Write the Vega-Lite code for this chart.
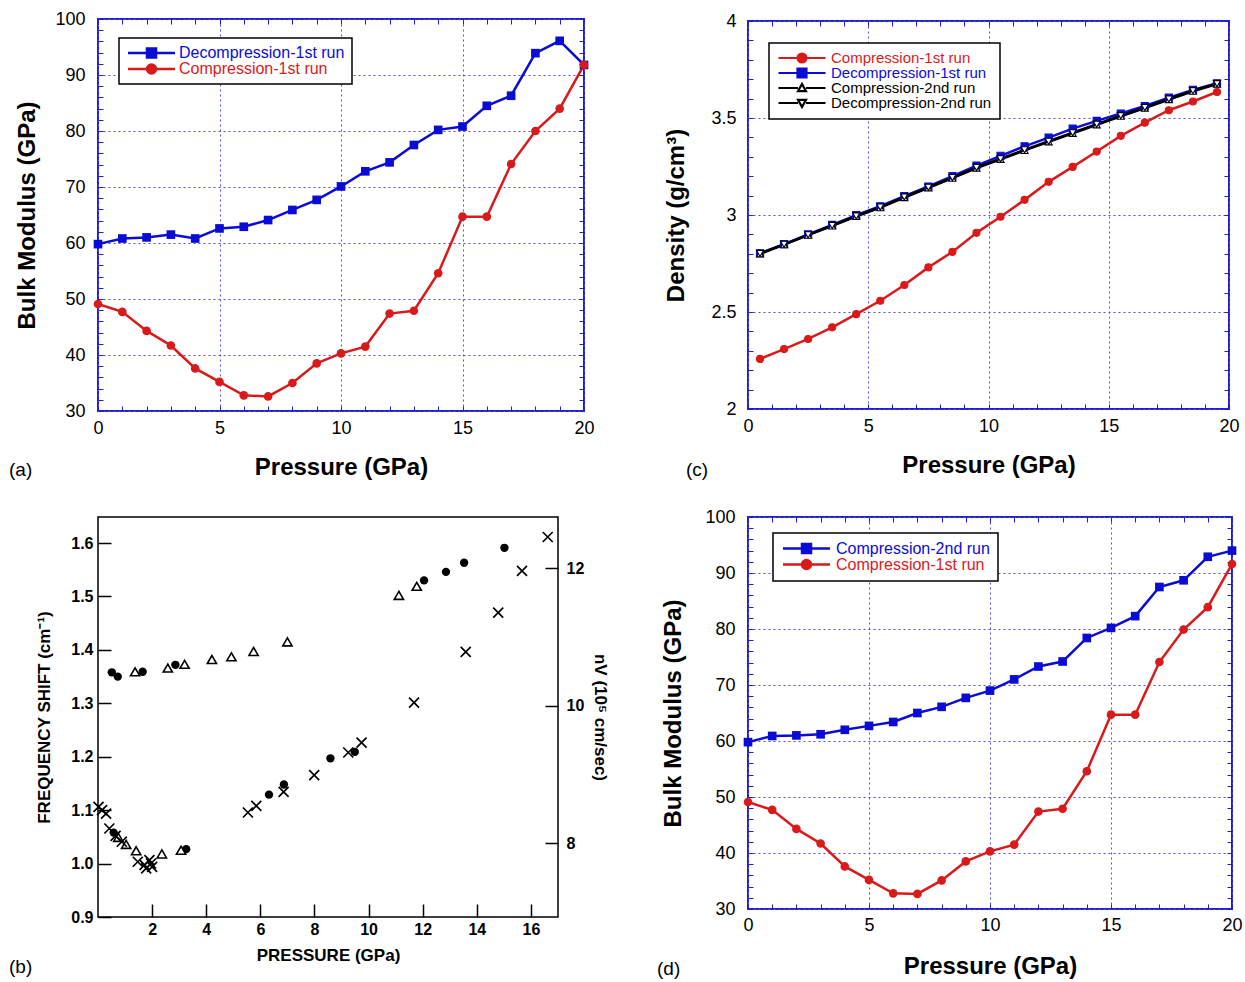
{
  "$schema": "https://vega.github.io/schema/vega-lite/v6.json",
  "padding": {"left": 8, "top": 9, "right": 5, "bottom": 5},
  "bounds": "flush",
  "columns": 2,
  "spacing": {"row": 106, "column": 164},
  "center": {"row": true, "column": false},
  "resolve": {"scale": {"color": "independent", "fill": "independent", "stroke": "independent", "shape": "independent", "x": "independent", "y": "independent"}},
  "config": {
    "font": "Liberation Sans",
    "view": {"stroke": null},
    "axis": {"labelFlush": false, "labelOverlap": false, "domain": false, "labelColor": "black", "titleColor": "black", "grid": false, "labelFont": "Liberation Sans", "titleFont": "Liberation Sans"},
    "title": {"color": "black", "font": "Liberation Sans", "fontWeight": "normal", "fontSize": 19},
    "legend": {"labelFont": "Liberation Sans", "labelLimit": 400}
  },
  "datasets": {
    "bulkA": [
      {"P": 0, "K": 59.8, "series": "Decompression-1st run"}, {"P": 1, "K": 60.8, "series": "Decompression-1st run"}, {"P": 2, "K": 61.0, "series": "Decompression-1st run"}, {"P": 3, "K": 61.5, "series": "Decompression-1st run"}, {"P": 4, "K": 60.8, "series": "Decompression-1st run"}, {"P": 5, "K": 62.6, "series": "Decompression-1st run"}, {"P": 6, "K": 62.9, "series": "Decompression-1st run"}, {"P": 7, "K": 64.1, "series": "Decompression-1st run"}, {"P": 8, "K": 65.9, "series": "Decompression-1st run"}, {"P": 9, "K": 67.7, "series": "Decompression-1st run"}, {"P": 10, "K": 70.1, "series": "Decompression-1st run"}, {"P": 11, "K": 72.8, "series": "Decompression-1st run"}, {"P": 12, "K": 74.4, "series": "Decompression-1st run"}, {"P": 13, "K": 77.5, "series": "Decompression-1st run"}, {"P": 14, "K": 80.2, "series": "Decompression-1st run"}, {"P": 15, "K": 80.8, "series": "Decompression-1st run"}, {"P": 16, "K": 84.5, "series": "Decompression-1st run"}, {"P": 17, "K": 86.3, "series": "Decompression-1st run"}, {"P": 18, "K": 93.9, "series": "Decompression-1st run"}, {"P": 19, "K": 96.1, "series": "Decompression-1st run"}, {"P": 20, "K": 91.8, "series": "Decompression-1st run"},
      {"P": 0, "K": 49.1, "series": "Compression-1st run"}, {"P": 1, "K": 47.7, "series": "Compression-1st run"}, {"P": 2, "K": 44.3, "series": "Compression-1st run"}, {"P": 3, "K": 41.7, "series": "Compression-1st run"}, {"P": 4, "K": 37.6, "series": "Compression-1st run"}, {"P": 5, "K": 35.2, "series": "Compression-1st run"}, {"P": 6, "K": 32.8, "series": "Compression-1st run"}, {"P": 7, "K": 32.6, "series": "Compression-1st run"}, {"P": 8, "K": 35.0, "series": "Compression-1st run"}, {"P": 9, "K": 38.5, "series": "Compression-1st run"}, {"P": 10, "K": 40.3, "series": "Compression-1st run"}, {"P": 11, "K": 41.5, "series": "Compression-1st run"}, {"P": 12, "K": 47.4, "series": "Compression-1st run"}, {"P": 13, "K": 47.9, "series": "Compression-1st run"}, {"P": 14, "K": 54.6, "series": "Compression-1st run"}, {"P": 15, "K": 64.7, "series": "Compression-1st run"}, {"P": 16, "K": 64.7, "series": "Compression-1st run"}, {"P": 17, "K": 74.1, "series": "Compression-1st run"}, {"P": 18, "K": 80.0, "series": "Compression-1st run"}, {"P": 19, "K": 84.0, "series": "Compression-1st run"}, {"P": 20, "K": 91.8, "series": "Compression-1st run"}
    ],
    "bulkD": [
      {"P": 0, "K": 59.8, "series": "Compression-2nd run"}, {"P": 1, "K": 60.9, "series": "Compression-2nd run"}, {"P": 2, "K": 61.0, "series": "Compression-2nd run"}, {"P": 3, "K": 61.2, "series": "Compression-2nd run"}, {"P": 4, "K": 62.0, "series": "Compression-2nd run"}, {"P": 5, "K": 62.7, "series": "Compression-2nd run"}, {"P": 6, "K": 63.4, "series": "Compression-2nd run"}, {"P": 7, "K": 65.0, "series": "Compression-2nd run"}, {"P": 8, "K": 66.1, "series": "Compression-2nd run"}, {"P": 9, "K": 67.7, "series": "Compression-2nd run"}, {"P": 10, "K": 69.0, "series": "Compression-2nd run"}, {"P": 11, "K": 71.0, "series": "Compression-2nd run"}, {"P": 12, "K": 73.3, "series": "Compression-2nd run"}, {"P": 13, "K": 74.2, "series": "Compression-2nd run"}, {"P": 14, "K": 78.4, "series": "Compression-2nd run"}, {"P": 15, "K": 80.2, "series": "Compression-2nd run"}, {"P": 16, "K": 82.3, "series": "Compression-2nd run"}, {"P": 17, "K": 87.5, "series": "Compression-2nd run"}, {"P": 18, "K": 88.7, "series": "Compression-2nd run"}, {"P": 19, "K": 92.9, "series": "Compression-2nd run"}, {"P": 20, "K": 94.0, "series": "Compression-2nd run"},
      {"P": 0, "K": 49.1, "series": "Compression-1st run"}, {"P": 1, "K": 47.7, "series": "Compression-1st run"}, {"P": 2, "K": 44.3, "series": "Compression-1st run"}, {"P": 3, "K": 41.7, "series": "Compression-1st run"}, {"P": 4, "K": 37.6, "series": "Compression-1st run"}, {"P": 5, "K": 35.2, "series": "Compression-1st run"}, {"P": 6, "K": 32.8, "series": "Compression-1st run"}, {"P": 7, "K": 32.7, "series": "Compression-1st run"}, {"P": 8, "K": 35.1, "series": "Compression-1st run"}, {"P": 9, "K": 38.5, "series": "Compression-1st run"}, {"P": 10, "K": 40.3, "series": "Compression-1st run"}, {"P": 11, "K": 41.5, "series": "Compression-1st run"}, {"P": 12, "K": 47.4, "series": "Compression-1st run"}, {"P": 13, "K": 47.9, "series": "Compression-1st run"}, {"P": 14, "K": 54.6, "series": "Compression-1st run"}, {"P": 15, "K": 64.7, "series": "Compression-1st run"}, {"P": 16, "K": 64.7, "series": "Compression-1st run"}, {"P": 17, "K": 74.1, "series": "Compression-1st run"}, {"P": 18, "K": 79.9, "series": "Compression-1st run"}, {"P": 19, "K": 83.9, "series": "Compression-1st run"}, {"P": 20, "K": 91.6, "series": "Compression-1st run"}
    ],
    "density": [
      {"P": 0.5, "rho": 2.258, "series": "Compression-1st run"}, {"P": 1.5, "rho": 2.309, "series": "Compression-1st run"}, {"P": 2.5, "rho": 2.361, "series": "Compression-1st run"}, {"P": 3.5, "rho": 2.421, "series": "Compression-1st run"}, {"P": 4.5, "rho": 2.489, "series": "Compression-1st run"}, {"P": 5.5, "rho": 2.558, "series": "Compression-1st run"}, {"P": 6.5, "rho": 2.639, "series": "Compression-1st run"}, {"P": 7.5, "rho": 2.730, "series": "Compression-1st run"}, {"P": 8.5, "rho": 2.810, "series": "Compression-1st run"}, {"P": 9.5, "rho": 2.908, "series": "Compression-1st run"}, {"P": 10.5, "rho": 2.991, "series": "Compression-1st run"}, {"P": 11.5, "rho": 3.078, "series": "Compression-1st run"}, {"P": 12.5, "rho": 3.171, "series": "Compression-1st run"}, {"P": 13.5, "rho": 3.248, "series": "Compression-1st run"}, {"P": 14.5, "rho": 3.327, "series": "Compression-1st run"}, {"P": 15.5, "rho": 3.408, "series": "Compression-1st run"}, {"P": 16.5, "rho": 3.476, "series": "Compression-1st run"}, {"P": 17.5, "rho": 3.540, "series": "Compression-1st run"}, {"P": 18.5, "rho": 3.585, "series": "Compression-1st run"}, {"P": 19.5, "rho": 3.634, "series": "Compression-1st run"},
      {"P": 0.5, "rho": 2.803, "series": "Decompression-1st run"}, {"P": 1.5, "rho": 2.850, "series": "Decompression-1st run"}, {"P": 2.5, "rho": 2.900, "series": "Decompression-1st run"}, {"P": 3.5, "rho": 2.949, "series": "Decompression-1st run"}, {"P": 4.5, "rho": 2.999, "series": "Decompression-1st run"}, {"P": 5.5, "rho": 3.045, "series": "Decompression-1st run"}, {"P": 6.5, "rho": 3.097, "series": "Decompression-1st run"}, {"P": 7.5, "rho": 3.147, "series": "Decompression-1st run"}, {"P": 8.5, "rho": 3.200, "series": "Decompression-1st run"}, {"P": 9.5, "rho": 3.255, "series": "Decompression-1st run"}, {"P": 10.5, "rho": 3.305, "series": "Decompression-1st run"}, {"P": 11.5, "rho": 3.354, "series": "Decompression-1st run"}, {"P": 12.5, "rho": 3.399, "series": "Decompression-1st run"}, {"P": 13.5, "rho": 3.445, "series": "Decompression-1st run"}, {"P": 14.5, "rho": 3.485, "series": "Decompression-1st run"}, {"P": 15.5, "rho": 3.523, "series": "Decompression-1st run"}, {"P": 16.5, "rho": 3.562, "series": "Decompression-1st run"}, {"P": 17.5, "rho": 3.605, "series": "Decompression-1st run"}, {"P": 18.5, "rho": 3.645, "series": "Decompression-1st run"}, {"P": 19.5, "rho": 3.679, "series": "Decompression-1st run"},
      {"P": 0.5, "rho": 2.800, "series": "Compression-2nd run"}, {"P": 1.5, "rho": 2.847, "series": "Compression-2nd run"}, {"P": 2.5, "rho": 2.896, "series": "Compression-2nd run"}, {"P": 3.5, "rho": 2.944, "series": "Compression-2nd run"}, {"P": 4.5, "rho": 2.993, "series": "Compression-2nd run"}, {"P": 5.5, "rho": 3.038, "series": "Compression-2nd run"}, {"P": 6.5, "rho": 3.090, "series": "Compression-2nd run"}, {"P": 7.5, "rho": 3.140, "series": "Compression-2nd run"}, {"P": 8.5, "rho": 3.190, "series": "Compression-2nd run"}, {"P": 9.5, "rho": 3.242, "series": "Compression-2nd run"}, {"P": 10.5, "rho": 3.287, "series": "Compression-2nd run"}, {"P": 11.5, "rho": 3.333, "series": "Compression-2nd run"}, {"P": 12.5, "rho": 3.377, "series": "Compression-2nd run"}, {"P": 13.5, "rho": 3.421, "series": "Compression-2nd run"}, {"P": 14.5, "rho": 3.465, "series": "Compression-2nd run"}, {"P": 15.5, "rho": 3.509, "series": "Compression-2nd run"}, {"P": 16.5, "rho": 3.551, "series": "Compression-2nd run"}, {"P": 17.5, "rho": 3.595, "series": "Compression-2nd run"}, {"P": 18.5, "rho": 3.638, "series": "Compression-2nd run"}, {"P": 19.5, "rho": 3.675, "series": "Compression-2nd run"},
      {"P": 0.5, "rho": 2.802, "series": "Decompression-2nd run"}, {"P": 1.5, "rho": 2.849, "series": "Decompression-2nd run"}, {"P": 2.5, "rho": 2.898, "series": "Decompression-2nd run"}, {"P": 3.5, "rho": 2.946, "series": "Decompression-2nd run"}, {"P": 4.5, "rho": 2.995, "series": "Decompression-2nd run"}, {"P": 5.5, "rho": 3.041, "series": "Decompression-2nd run"}, {"P": 6.5, "rho": 3.093, "series": "Decompression-2nd run"}, {"P": 7.5, "rho": 3.143, "series": "Decompression-2nd run"}, {"P": 8.5, "rho": 3.193, "series": "Decompression-2nd run"}, {"P": 9.5, "rho": 3.245, "series": "Decompression-2nd run"}, {"P": 10.5, "rho": 3.290, "series": "Decompression-2nd run"}, {"P": 11.5, "rho": 3.336, "series": "Decompression-2nd run"}, {"P": 12.5, "rho": 3.380, "series": "Decompression-2nd run"}, {"P": 13.5, "rho": 3.424, "series": "Decompression-2nd run"}, {"P": 14.5, "rho": 3.468, "series": "Decompression-2nd run"}, {"P": 15.5, "rho": 3.512, "series": "Decompression-2nd run"}, {"P": 16.5, "rho": 3.554, "series": "Decompression-2nd run"}, {"P": 17.5, "rho": 3.598, "series": "Decompression-2nd run"}, {"P": 18.5, "rho": 3.641, "series": "Decompression-2nd run"}, {"P": 19.5, "rho": 3.677, "series": "Decompression-2nd run"}
    ],
    "brill": [
      {"P": 0.51, "fs": 1.358, "kind": "circle"}, {"P": 0.73, "fs": 1.350, "kind": "circle"}, {"P": 1.65, "fs": 1.359, "kind": "circle"}, {"P": 2.86, "fs": 1.372, "kind": "circle"}, {"P": 0.58, "fs": 1.058, "kind": "circle"}, {"P": 3.26, "fs": 1.027, "kind": "circle"}, {"P": 6.32, "fs": 1.129, "kind": "circle"}, {"P": 6.87, "fs": 1.148, "kind": "circle"}, {"P": 8.59, "fs": 1.197, "kind": "circle"}, {"P": 9.49, "fs": 1.209, "kind": "circle"}, {"P": 12.05, "fs": 1.530, "kind": "circle"}, {"P": 12.86, "fs": 1.546, "kind": "circle"}, {"P": 13.53, "fs": 1.563, "kind": "circle"}, {"P": 15.02, "fs": 1.591, "kind": "circle"},
      {"P": 1.37, "fs": 1.359, "kind": "triangle"}, {"P": 2.58, "fs": 1.366, "kind": "triangle"}, {"P": 3.20, "fs": 1.373, "kind": "triangle"}, {"P": 4.21, "fs": 1.382, "kind": "triangle"}, {"P": 4.93, "fs": 1.387, "kind": "triangle"}, {"P": 5.75, "fs": 1.397, "kind": "triangle"}, {"P": 7.00, "fs": 1.415, "kind": "triangle"}, {"P": 11.12, "fs": 1.502, "kind": "triangle"}, {"P": 11.78, "fs": 1.519, "kind": "triangle"}, {"P": 0.75, "fs": 1.049, "kind": "triangle"}, {"P": 1.04, "fs": 1.036, "kind": "triangle"}, {"P": 1.41, "fs": 1.024, "kind": "triangle"}, {"P": 2.36, "fs": 1.018, "kind": "triangle"}, {"P": 3.07, "fs": 1.025, "kind": "triangle"},
      {"P": 0.02, "nv": 8.531, "kind": "cross"}, {"P": 0.15, "nv": 8.483, "kind": "cross"}, {"P": 0.30, "nv": 8.433, "kind": "cross"}, {"P": 0.42, "nv": 8.215, "kind": "cross"}, {"P": 0.65, "nv": 8.109, "kind": "cross"}, {"P": 0.88, "nv": 8.022, "kind": "cross"}, {"P": 1.47, "nv": 7.731, "kind": "cross"}, {"P": 1.72, "nv": 7.687, "kind": "cross"}, {"P": 1.78, "nv": 7.634, "kind": "cross"}, {"P": 1.90, "nv": 7.756, "kind": "cross"}, {"P": 1.96, "nv": 7.706, "kind": "cross"}, {"P": 2.00, "nv": 7.658, "kind": "cross"}, {"P": 5.54, "nv": 8.448, "kind": "cross"}, {"P": 5.85, "nv": 8.545, "kind": "cross"}, {"P": 6.86, "nv": 8.749, "kind": "cross"}, {"P": 7.99, "nv": 8.992, "kind": "cross"}, {"P": 9.25, "nv": 9.321, "kind": "cross"}, {"P": 9.74, "nv": 9.466, "kind": "cross"}, {"P": 11.68, "nv": 10.048, "kind": "cross"}, {"P": 13.59, "nv": 10.785, "kind": "cross"}, {"P": 14.79, "nv": 11.357, "kind": "cross"}, {"P": 15.67, "nv": 11.964, "kind": "cross"}, {"P": 16.62, "nv": 12.458, "kind": "cross"}
    ]
  },
  "concat": [
    {
      "width": 486, "height": 392,
      "view": {"stroke": "#2020d0", "strokeWidth": 2},
      "title": {"text": "(a)", "orient": "bottom", "anchor": "start", "frame": "group", "dx": -89, "offset": -19},
      "data": {"name": "bulkA"},
      "layer": [
        {
          "mark": {"type": "line", "strokeWidth": 2.5},
          "encoding": {
            "x": {"field": "P", "type": "quantitative", "scale": {"domain": [0, 20], "nice": false, "zero": false},
              "axis": {"orient": "bottom", "values": [0,1,2,3,4,5,6,7,8,9,10,11,12,13,14,15,16,17,18,19,20], "labelExpr": "datum.value % 5 === 0 ? datum.label : ''", "tickSize": -5, "tickColor": "#2020d0", "labelFontSize": 18, "labelPadding": 13.5, "title": "Pressure (GPa)", "titleFontSize": 24, "titleFontWeight": "bold", "titlePadding": 18, "grid": true, "gridColor": "#5050e0", "gridDash": [2, 3], "gridWidth": 1, "gridOpacity": {"condition": {"test": "datum.value % 5 === 0", "value": 1}, "value": 0}}},
            "y": {"field": "K", "type": "quantitative", "scale": {"domain": [30, 100], "nice": false, "zero": false},
              "axis": {"orient": "left", "values": [30,32,34,36,38,40,42,44,46,48,50,52,54,56,58,60,62,64,66,68,70,72,74,76,78,80,82,84,86,88,90,92,94,96,98,100], "labelExpr": "datum.value % 10 === 0 ? datum.label : ''", "tickSize": -5, "tickColor": "#2020d0", "labelFontSize": 18, "labelPadding": 18, "title": "Bulk Modulus (GPa)", "titleFontSize": 24, "titleFontWeight": "bold", "titlePadding": 15, "grid": true, "gridColor": "#5050e0", "gridDash": [2, 3], "gridWidth": 1, "gridOpacity": {"condition": {"test": "datum.value % 10 === 0", "value": 1}, "value": 0}}},
            "color": {"field": "series", "type": "nominal", "scale": {"domain": ["Decompression-1st run", "Compression-1st run"], "range": ["#0b0bd6", "#d91a1a"]},
              "legend": {"title": null, "orient": "none", "legendX": 21, "legendY": 19, "direction": "vertical", "fillColor": "white", "strokeColor": "black", "padding": 7, "labelFontSize": 16, "rowPadding": -1, "clipHeight": 16, "symbolSize": 16, "symbolStrokeWidth": 2.5, "labelOffset": 37, "labelExpr": "datum.label + '\u00a0\u00a0\u00a0'",
                "encode": {
                  "legend": {"update": {"strokeWidth": {"value": 1.5}}},
                  "symbols": {"update": {
                    "shape": {"signal": "datum.value === 'Compression-1st run' ? 'M-3,0H6.5M11,0H20.5M6.5,0A2.25,2.25 0 1,0 11,0A2.25,2.25 0 1,0 6.5,0Z' : 'M-3,0H6.5M11,0H20.5M6.5,-2.25H11V2.25H6.5Z'"},
                    "fill": {"signal": "datum.value === 'Compression-1st run' ? '#d91a1a' : '#0b0bd6'"},
                    "stroke": {"signal": "datum.value === 'Compression-1st run' ? '#d91a1a' : '#0b0bd6'"},
                    "strokeWidth": {"value": 2.5}, "opacity": {"value": 1}}},
                  "labels": {"update": {"fill": {"signal": "datum.value === 'Compression-1st run' ? '#d91a1a' : '#0b0bd6'"}}}
                }}}
          }
        },
        {
          "mark": {"type": "point", "filled": true, "opacity": 1},
          "encoding": {
            "x": {"field": "P", "type": "quantitative", "axis": {"orient": "top", "values": [0,1,2,3,4,5,6,7,8,9,10,11,12,13,14,15,16,17,18,19,20], "labels": false, "tickSize": -5, "tickColor": "#2020d0", "title": null, "grid": false}},
            "y": {"field": "K", "type": "quantitative", "axis": {"orient": "right", "values": [30,32,34,36,38,40,42,44,46,48,50,52,54,56,58,60,62,64,66,68,70,72,74,76,78,80,82,84,86,88,90,92,94,96,98,100], "labels": false, "tickSize": -5, "tickColor": "#2020d0", "title": null, "grid": false}},
            "fill": {"field": "series", "type": "nominal", "scale": {"domain": ["Compression-1st run", "Decompression-1st run"], "range": ["#d91a1a", "#0b0bd6"]}, "legend": null},
            "shape": {"field": "series", "type": "nominal", "scale": {"domain": ["Compression-1st run", "Decompression-1st run"], "range": ["circle", "square"]}, "legend": null},
            "size": {"value": 75}
          }
        }
      ],
      "resolve": {"axis": {"x": "independent", "y": "independent"}}
    },
    {
      "width": 481, "height": 388,
      "view": {"stroke": "#2020d0", "strokeWidth": 2},
      "title": {"text": "(c)", "orient": "bottom", "anchor": "start", "frame": "group", "dx": -62, "offset": -17},
      "data": {"name": "density"},
      "layer": [
        {
          "mark": {"type": "line", "strokeWidth": 2.5},
          "encoding": {
            "x": {"field": "P", "type": "quantitative", "scale": {"domain": [0, 20], "nice": false, "zero": false},
              "axis": {"orient": "bottom", "values": [0,1,2,3,4,5,6,7,8,9,10,11,12,13,14,15,16,17,18,19,20], "labelExpr": "datum.value % 5 === 0 ? datum.label : ''", "tickSize": -5, "tickColor": "#2020d0", "labelFontSize": 18, "labelPadding": 13.5, "title": "Pressure (GPa)", "titleFontSize": 24, "titleFontWeight": "bold", "titlePadding": 18, "grid": true, "gridColor": "#5050e0", "gridDash": [2, 3], "gridWidth": 1, "gridOpacity": {"condition": {"test": "datum.value % 5 === 0", "value": 1}, "value": 0}}},
            "y": {"field": "rho", "type": "quantitative", "scale": {"domain": [2, 4], "nice": false, "zero": false},
              "axis": {"orient": "left", "values": [2,2.1,2.2,2.3,2.4,2.5,2.6,2.7,2.8,2.9,3,3.1,3.2,3.3,3.4,3.5,3.6,3.7,3.8,3.9,4], "labelExpr": "abs(datum.value*2 - round(datum.value*2)) < 0.001 ? format(datum.value, '~g') : ''", "tickSize": -5, "tickColor": "#2020d0", "labelFontSize": 18, "labelPadding": 17, "title": "Density (g/cm³)", "titleFontSize": 24, "titleFontWeight": "bold", "titlePadding": 22, "grid": true, "gridColor": "#5050e0", "gridDash": [2, 3], "gridWidth": 1, "gridOpacity": {"condition": {"test": "abs(datum.value*2 - round(datum.value*2)) < 0.001", "value": 1}, "value": 0}}},
            "color": {"field": "series", "type": "nominal", "scale": {"domain": ["Compression-1st run", "Decompression-1st run", "Compression-2nd run", "Decompression-2nd run"], "range": ["#d91a1a", "#0b0bd6", "black", "black"]},
              "legend": {"title": null, "orient": "none", "legendX": 21, "legendY": 22, "direction": "vertical", "fillColor": "white", "strokeColor": "black", "padding": 8, "labelFontSize": 15, "rowPadding": -3, "clipHeight": 14, "symbolSize": 16, "symbolStrokeWidth": 2.2, "labelOffset": 39, "labelExpr": "datum.label + '\u00a0\u00a0\u00a0'",
                "encode": {
                  "legend": {"update": {"strokeWidth": {"value": 1.5}}},
                  "symbols": {"update": {
                    "shape": {"signal": "datum.value === 'Compression-1st run' ? 'M-3,0H6.5M11,0H20.5M6.5,0A2.25,2.25 0 1,0 11,0A2.25,2.25 0 1,0 6.5,0Z' : datum.value === 'Decompression-1st run' ? 'M-3,0H6.5M11,0H20.5M6.5,-2.25H11V2.25H6.5Z' : datum.value === 'Compression-2nd run' ? 'M-3,0H6.75M10.75,0H20.5M8.75,-2L10.75,1.6L6.75,1.6Z' : 'M-3,0H6.75M10.75,0H20.5M8.75,2L10.75,-1.6L6.75,-1.6Z'"},
                    "fill": {"signal": "datum.value === 'Compression-1st run' ? '#d91a1a' : datum.value === 'Decompression-1st run' ? '#0b0bd6' : 'white'"},
                    "stroke": {"signal": "datum.value === 'Compression-1st run' ? '#d91a1a' : datum.value === 'Decompression-1st run' ? '#0b0bd6' : 'black'"},
                    "strokeWidth": {"value": 2.2}, "opacity": {"value": 1}}},
                  "labels": {"update": {"fill": {"signal": "datum.value === 'Compression-1st run' ? '#d91a1a' : datum.value === 'Decompression-1st run' ? '#0b0bd6' : 'black'"}}}
                }}}
          }
        },
        {
          "mark": {"type": "point", "filled": true, "opacity": 1, "strokeWidth": 1.1},
          "encoding": {
            "x": {"field": "P", "type": "quantitative", "axis": {"orient": "top", "values": [0,1,2,3,4,5,6,7,8,9,10,11,12,13,14,15,16,17,18,19,20], "labels": false, "tickSize": -5, "tickColor": "#2020d0", "title": null, "grid": false}},
            "y": {"field": "rho", "type": "quantitative", "axis": {"orient": "right", "values": [2,2.1,2.2,2.3,2.4,2.5,2.6,2.7,2.8,2.9,3,3.1,3.2,3.3,3.4,3.5,3.6,3.7,3.8,3.9,4], "labels": false, "tickSize": -5, "tickColor": "#2020d0", "title": null, "grid": false}},
            "fill": {"field": "series", "type": "nominal", "scale": {"domain": ["Decompression-2nd run", "Compression-2nd run", "Decompression-1st run", "Compression-1st run"], "range": ["white", "white", "#0b0bd6", "#d91a1a"]}, "legend": null},
            "stroke": {"field": "series", "type": "nominal", "scale": {"domain": ["Decompression-2nd run", "Compression-2nd run", "Decompression-1st run", "Compression-1st run"], "range": ["black", "black", "#0b0bd6", "#d91a1a"]}, "legend": null},
            "shape": {"field": "series", "type": "nominal", "scale": {"domain": ["Decompression-2nd run", "Compression-2nd run", "Decompression-1st run", "Compression-1st run"], "range": ["triangle-down", "triangle-up", "square", "circle"]}, "legend": null},
            "size": {"value": 50}
          }
        }
      ],
      "resolve": {"axis": {"x": "independent", "y": "independent"}}
    },
    {
      "width": 460, "height": 400,
      "view": {"stroke": "black", "strokeWidth": 1.5},
      "title": {"text": "(b)", "orient": "bottom", "anchor": "start", "frame": "group", "dx": -89, "offset": -5},
      "data": {"name": "brill"},
      "layer": [
        {
          "transform": [{"filter": "datum.kind === 'circle'"}],
          "mark": {"type": "point", "filled": true, "shape": "circle", "size": 70, "color": "black", "opacity": 1},
          "encoding": {
            "x": {"field": "P", "type": "quantitative", "scale": {"domain": [0, 17], "nice": false, "zero": false},
              "axis": {"orient": "bottom", "values": [2,4,6,8,10,12,14,16], "tickSize": -13, "tickColor": "black", "tickWidth": 1.5, "labelFontSize": 16, "labelFontWeight": "bold", "labelPadding": 17, "title": "PRESSURE (GPa)", "titleFontSize": 17, "titleFontWeight": "bold", "titlePadding": 10}},
            "y": {"field": "fs", "type": "quantitative", "scale": {"domain": [0.9, 1.6487], "nice": false, "zero": false},
              "axis": {"orient": "left", "values": [0.9,1.0,1.1,1.2,1.3,1.4,1.5,1.6], "format": ".1f", "tickSize": -13, "tickColor": "black", "tickWidth": 1.5, "labelFontSize": 16, "labelFontWeight": "bold", "labelPadding": 18, "title": "FREQUENCY SHIFT (cm⁻¹)", "titleFontSize": 17, "titleFontWeight": "bold", "titlePadding": 17}}
          }
        },
        {
          "transform": [{"filter": "datum.kind === 'triangle'"}],
          "mark": {"type": "point", "filled": true, "shape": "triangle-up", "size": 85, "fill": "white", "stroke": "black", "strokeWidth": 1.6, "opacity": 1},
          "encoding": {
            "x": {"field": "P", "type": "quantitative"},
            "y": {"field": "fs", "type": "quantitative", "scale": {"domain": [0.9, 1.6487], "nice": false, "zero": false}, "axis": null}
          }
        },
        {
          "transform": [{"filter": "datum.kind === 'cross'"}],
          "mark": {"type": "point", "filled": false, "shape": "M-1,-1L1,1M-1,1L1,-1", "size": 100, "stroke": "black", "strokeWidth": 1.7, "opacity": 1},
          "encoding": {
            "x": {"field": "P", "type": "quantitative"},
            "y": {"field": "nv", "type": "quantitative", "scale": {"domain": [6.927, 12.749], "nice": false, "zero": false},
              "axis": {"orient": "right", "values": [8, 10, 12], "tickSize": -13, "tickColor": "black", "tickWidth": 1.5, "labelFontSize": 16, "labelFontWeight": "bold", "labelPadding": 21, "title": "nV (10⁵ cm/sec)", "titleFontSize": 17, "titleFontWeight": "bold", "titlePadding": 7}}
          }
        }
      ],
      "resolve": {"scale": {"y": "independent"}}
    },
    {
      "width": 484, "height": 392,
      "view": {"stroke": "#2020d0", "strokeWidth": 2},
      "title": {"text": "(d)", "orient": "bottom", "anchor": "start", "frame": "group", "dx": -91, "offset": -19},
      "data": {"name": "bulkD"},
      "layer": [
        {
          "mark": {"type": "line", "strokeWidth": 2.5},
          "encoding": {
            "x": {"field": "P", "type": "quantitative", "scale": {"domain": [0, 20], "nice": false, "zero": false},
              "axis": {"orient": "bottom", "values": [0,1,2,3,4,5,6,7,8,9,10,11,12,13,14,15,16,17,18,19,20], "labelExpr": "datum.value % 5 === 0 ? datum.label : ''", "tickSize": -5, "tickColor": "#2020d0", "labelFontSize": 18, "labelPadding": 12.5, "title": "Pressure (GPa)", "titleFontSize": 24, "titleFontWeight": "bold", "titlePadding": 20, "grid": true, "gridColor": "#5050e0", "gridDash": [2, 3], "gridWidth": 1, "gridOpacity": {"condition": {"test": "datum.value % 5 === 0", "value": 1}, "value": 0}}},
            "y": {"field": "K", "type": "quantitative", "scale": {"domain": [30, 100], "nice": false, "zero": false},
              "axis": {"orient": "left", "values": [30,32,34,36,38,40,42,44,46,48,50,52,54,56,58,60,62,64,66,68,70,72,74,76,78,80,82,84,86,88,90,92,94,96,98,100], "labelExpr": "datum.value % 10 === 0 ? datum.label : ''", "tickSize": -5, "tickColor": "#2020d0", "labelFontSize": 18, "labelPadding": 18, "title": "Bulk Modulus (GPa)", "titleFontSize": 24, "titleFontWeight": "bold", "titlePadding": 19, "grid": true, "gridColor": "#5050e0", "gridDash": [2, 3], "gridWidth": 1, "gridOpacity": {"condition": {"test": "datum.value % 10 === 0", "value": 1}, "value": 0}}},
            "color": {"field": "series", "type": "nominal", "scale": {"domain": ["Compression-2nd run", "Compression-1st run"], "range": ["#0b0bd6", "#d91a1a"]},
              "legend": {"title": null, "orient": "none", "legendX": 25, "legendY": 16, "direction": "vertical", "fillColor": "white", "strokeColor": "black", "padding": 8, "labelFontSize": 16, "rowPadding": -2, "clipHeight": 15, "symbolSize": 16, "symbolStrokeWidth": 2.5, "labelOffset": 39, "labelExpr": "datum.label + '\u00a0\u00a0'",
                "encode": {
                  "legend": {"update": {"strokeWidth": {"value": 1.5}}},
                  "symbols": {"update": {
                    "shape": {"signal": "datum.value === 'Compression-1st run' ? 'M-3,0H6.5M11,0H20.5M6.5,0A2.25,2.25 0 1,0 11,0A2.25,2.25 0 1,0 6.5,0Z' : 'M-3,0H6.5M11,0H20.5M6.5,-2.25H11V2.25H6.5Z'"},
                    "fill": {"signal": "datum.value === 'Compression-1st run' ? '#d91a1a' : '#0b0bd6'"},
                    "stroke": {"signal": "datum.value === 'Compression-1st run' ? '#d91a1a' : '#0b0bd6'"},
                    "strokeWidth": {"value": 2.5}, "opacity": {"value": 1}}},
                  "labels": {"update": {"fill": {"signal": "datum.value === 'Compression-1st run' ? '#d91a1a' : '#0b0bd6'"}}}
                }}}
          }
        },
        {
          "mark": {"type": "point", "filled": true, "opacity": 1},
          "encoding": {
            "x": {"field": "P", "type": "quantitative", "axis": {"orient": "top", "values": [0,1,2,3,4,5,6,7,8,9,10,11,12,13,14,15,16,17,18,19,20], "labels": false, "tickSize": -5, "tickColor": "#2020d0", "title": null, "grid": false}},
            "y": {"field": "K", "type": "quantitative", "axis": {"orient": "right", "values": [30,32,34,36,38,40,42,44,46,48,50,52,54,56,58,60,62,64,66,68,70,72,74,76,78,80,82,84,86,88,90,92,94,96,98,100], "labels": false, "tickSize": -5, "tickColor": "#2020d0", "title": null, "grid": false}},
            "fill": {"field": "series", "type": "nominal", "scale": {"domain": ["Compression-1st run", "Compression-2nd run"], "range": ["#d91a1a", "#0b0bd6"]}, "legend": null},
            "shape": {"field": "series", "type": "nominal", "scale": {"domain": ["Compression-1st run", "Compression-2nd run"], "range": ["circle", "square"]}, "legend": null},
            "size": {"value": 75}
          }
        }
      ],
      "resolve": {"axis": {"x": "independent", "y": "independent"}}
    }
  ]
}
